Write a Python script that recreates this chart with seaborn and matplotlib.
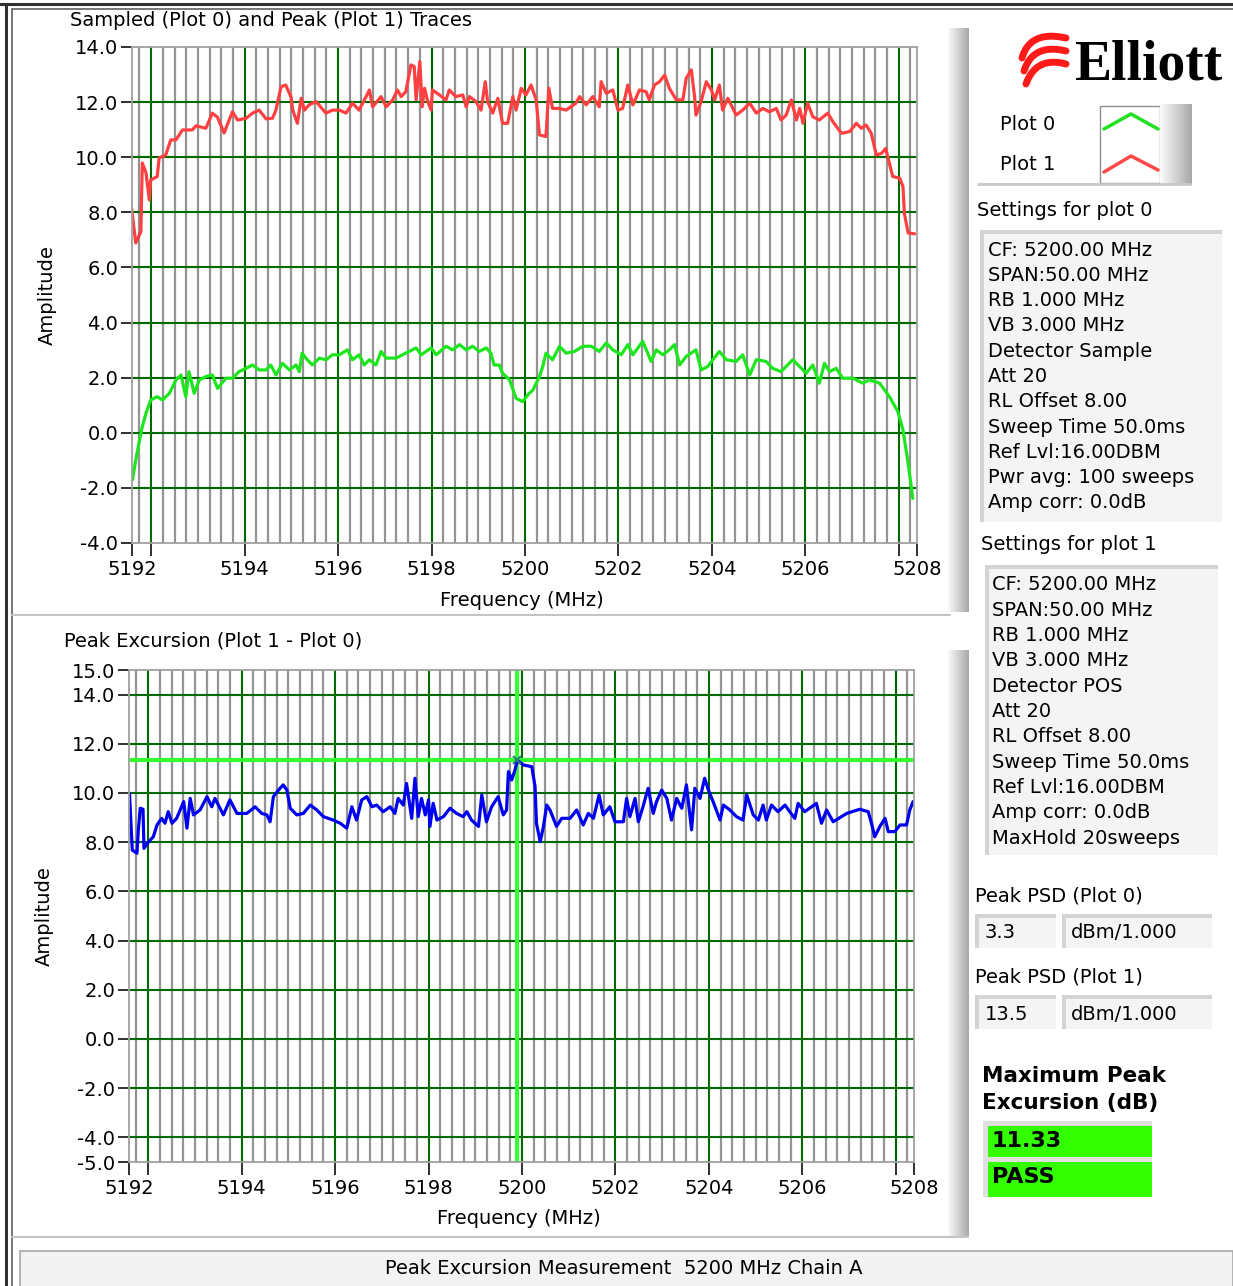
import numpy as np
import matplotlib
matplotlib.use("Agg")
import matplotlib.pyplot as plt
import seaborn as sns
from matplotlib.patches import Rectangle

# --- Sampled trace (Plot 0, green) ---
freq_plot0 = [5191.60, 5191.67, 5191.74, 5191.81, 5191.89, 5191.99, 5192.13, 5192.24, 5192.39, 5192.53,
              5192.64, 5192.74, 5192.81, 5192.92, 5193.03, 5193.17, 5193.31, 5193.42, 5193.60, 5193.74,
              5193.88, 5194.03, 5194.17, 5194.31, 5194.46, 5194.56, 5194.67, 5194.81, 5194.96, 5195.10,
              5195.17, 5195.23, 5195.31, 5195.45, 5195.60, 5195.74, 5195.88, 5196.03, 5196.20, 5196.31,
              5196.45, 5196.56, 5196.67, 5196.81, 5196.92, 5197.03, 5197.24, 5197.38, 5197.52, 5197.67,
              5197.78, 5197.99, 5198.10, 5198.31, 5198.45, 5198.60, 5198.74, 5198.88, 5199.02, 5199.17,
              5199.27, 5199.34, 5199.45, 5199.52, 5199.67, 5199.81, 5199.95, 5200.09, 5200.17, 5200.24,
              5200.31, 5200.38, 5200.45, 5200.59, 5200.74, 5200.88, 5201.06, 5201.24, 5201.42, 5201.59,
              5201.74, 5201.88, 5202.06, 5202.20, 5202.31, 5202.52, 5202.70, 5202.81, 5202.95, 5203.09,
              5203.20, 5203.31, 5203.45, 5203.66, 5203.77, 5203.91, 5204.02, 5204.16, 5204.31, 5204.52,
              5204.66, 5204.81, 5204.95, 5205.16, 5205.30, 5205.48, 5205.73, 5205.88, 5206.02, 5206.16,
              5206.30, 5206.41, 5206.52, 5206.66, 5206.80, 5207.02, 5207.23, 5207.37, 5207.59, 5207.80,
              5207.98, 5208.09, 5208.20, 5208.30]
amp_plot0 = [-1.71, -0.99, -0.37, 0.22, 0.71, 1.19, 1.31, 1.19, 1.43, 1.92,
             2.10, 1.31, 2.22, 1.43, 1.92, 2.04, 2.10, 1.61, 1.98, 1.98,
             2.22, 2.34, 2.46, 2.28, 2.28, 2.46, 2.10, 2.52, 2.28, 2.46,
             2.22, 2.89, 2.71, 2.46, 2.71, 2.65, 2.83, 2.83, 3.01, 2.65,
             2.83, 2.46, 2.65, 2.46, 2.95, 2.71, 2.71, 2.83, 2.95, 3.08,
             2.83, 3.08, 2.83, 3.14, 3.01, 3.20, 3.01, 3.14, 2.95, 3.08,
             2.89, 2.46, 2.46, 2.16, 1.92, 1.25, 1.13, 1.43, 1.55, 1.80,
             2.04, 2.40, 2.89, 2.65, 3.14, 2.89, 2.95, 3.14, 3.14, 2.95,
             3.26, 3.01, 2.83, 3.20, 2.83, 3.32, 2.59, 3.01, 2.83, 3.01,
             3.20, 2.46, 2.77, 3.01, 2.28, 2.40, 2.65, 2.95, 2.65, 2.59,
             2.83, 2.10, 2.65, 2.59, 2.34, 2.22, 2.65, 2.40, 2.16, 2.46,
             1.80, 2.52, 2.22, 2.34, 1.98, 1.98, 1.80, 1.92, 1.80, 1.31,
             0.77, 0.10, -1.11, -2.38]

# --- Peak trace (Plot 1, red) ---
freq_plot1 = [5191.58, 5191.67, 5191.78, 5191.81, 5191.89, 5191.96, 5191.99, 5192.13, 5192.17, 5192.31,
              5192.42, 5192.53, 5192.67, 5192.88, 5192.96, 5193.17, 5193.31, 5193.42, 5193.56, 5193.74,
              5193.85, 5194.03, 5194.17, 5194.31, 5194.46, 5194.60, 5194.67, 5194.78, 5194.88, 5194.99,
              5195.03, 5195.13, 5195.21, 5195.28, 5195.38, 5195.53, 5195.74, 5195.88, 5196.03, 5196.17,
              5196.31, 5196.45, 5196.60, 5196.67, 5196.74, 5196.92, 5197.03, 5197.17, 5197.27, 5197.35,
              5197.45, 5197.56, 5197.63, 5197.67, 5197.75, 5197.80, 5197.85, 5197.92, 5197.99, 5198.02,
              5198.17, 5198.31, 5198.38, 5198.52, 5198.67, 5198.74, 5198.81, 5198.95, 5199.06, 5199.15,
              5199.20, 5199.31, 5199.42, 5199.52, 5199.63, 5199.74, 5199.81, 5199.92, 5200.02, 5200.13,
              5200.24, 5200.31, 5200.45, 5200.51, 5200.59, 5200.74, 5200.88, 5201.09, 5201.17, 5201.31,
              5201.45, 5201.59, 5201.63, 5201.74, 5201.88, 5201.99, 5202.09, 5202.20, 5202.31, 5202.45,
              5202.59, 5202.66, 5202.77, 5202.88, 5202.99, 5203.09, 5203.24, 5203.38, 5203.45, 5203.56,
              5203.63, 5203.66, 5203.77, 5203.88, 5203.99, 5204.06, 5204.16, 5204.23, 5204.34, 5204.52,
              5204.66, 5204.81, 5204.95, 5205.09, 5205.23, 5205.38, 5205.48, 5205.59, 5205.70, 5205.81,
              5205.88, 5205.95, 5206.05, 5206.16, 5206.30, 5206.48, 5206.59, 5206.77, 5206.95, 5207.09,
              5207.20, 5207.30, 5207.41, 5207.52, 5207.63, 5207.72, 5207.77, 5207.87, 5208.02, 5208.09,
              5208.12, 5208.20, 5208.34]
amp_plot1 = [8.16, 6.89, 7.30, 9.79, 9.43, 8.45, 9.17, 9.30, 9.97, 10.08,
             10.63, 10.63, 10.99, 10.99, 11.14, 11.05, 11.60, 11.45, 10.88, 11.65,
             11.35, 11.41, 11.60, 11.71, 11.39, 11.42, 11.71, 12.56, 12.62, 12.20,
             11.71, 11.23, 12.14, 11.71, 11.90, 12.02, 11.60, 11.71, 11.71, 11.60,
             11.96, 11.71, 12.20, 12.44, 11.83, 12.20, 11.83, 12.08, 12.44, 12.20,
             12.38, 13.35, 13.29, 12.08, 13.47, 11.83, 12.50, 12.02, 11.71, 12.44,
             12.26, 12.08, 12.44, 12.20, 12.26, 11.83, 12.20, 12.02, 11.71, 12.74,
             12.02, 11.60, 12.14, 11.23, 11.23, 12.20, 11.71, 12.50, 12.26, 12.62,
             12.08, 10.81, 10.75, 12.50, 11.77, 11.77, 11.71, 11.96, 12.20, 11.90,
             12.20, 11.83, 12.74, 12.32, 12.44, 11.71, 11.77, 12.62, 11.90, 12.44,
             12.38, 12.08, 12.62, 12.74, 12.98, 12.50, 12.08, 12.08, 12.86, 13.17,
             12.20, 11.53, 12.02, 12.74, 12.44, 12.08, 12.62, 11.71, 12.14, 11.53,
             11.71, 11.96, 11.60, 11.77, 11.65, 11.77, 11.35, 11.53, 12.08, 11.35,
             11.77, 11.23, 11.96, 11.47, 11.35, 11.60, 11.29, 10.87, 10.93, 11.23,
             11.05, 11.17, 10.87, 10.08, 10.14, 10.32, 9.97, 9.30, 9.24, 8.93,
             7.96, 7.25, 7.22]

# --- Peak excursion (Plot 1 - Plot 0, blue) ---
freq_excursion = [5191.60, 5191.63, 5191.66, 5191.76, 5191.79, 5191.83, 5191.89, 5191.91, 5192.01, 5192.11,
                  5192.19, 5192.29, 5192.36, 5192.43, 5192.51, 5192.61, 5192.76, 5192.83, 5192.90, 5192.97,
                  5193.11, 5193.26, 5193.36, 5193.43, 5193.61, 5193.75, 5193.90, 5194.11, 5194.29, 5194.43,
                  5194.54, 5194.61, 5194.68, 5194.79, 5194.89, 5194.97, 5195.04, 5195.18, 5195.32, 5195.47,
                  5195.61, 5195.75, 5195.96, 5196.11, 5196.25, 5196.36, 5196.46, 5196.57, 5196.68, 5196.79,
                  5196.89, 5197.03, 5197.18, 5197.28, 5197.35, 5197.46, 5197.53, 5197.64, 5197.71, 5197.78,
                  5197.85, 5197.93, 5198.00, 5198.03, 5198.10, 5198.18, 5198.32, 5198.46, 5198.60, 5198.74,
                  5198.82, 5198.92, 5199.07, 5199.14, 5199.24, 5199.35, 5199.49, 5199.60, 5199.67, 5199.71,
                  5199.78, 5199.85, 5199.90, 5200.03, 5200.21, 5200.28, 5200.31, 5200.39, 5200.46, 5200.53,
                  5200.60, 5200.74, 5200.85, 5201.03, 5201.17, 5201.31, 5201.42, 5201.53, 5201.65, 5201.74,
                  5201.88, 5201.99, 5202.17, 5202.24, 5202.31, 5202.42, 5202.49, 5202.59, 5202.70, 5202.81,
                  5202.88, 5202.99, 5203.10, 5203.20, 5203.31, 5203.42, 5203.52, 5203.63, 5203.70, 5203.81,
                  5203.91, 5203.99, 5204.09, 5204.24, 5204.31, 5204.45, 5204.59, 5204.73, 5204.81, 5204.95,
                  5205.06, 5205.16, 5205.23, 5205.34, 5205.48, 5205.63, 5205.73, 5205.84, 5205.91, 5206.05,
                  5206.20, 5206.30, 5206.41, 5206.52, 5206.66, 5206.95, 5207.23, 5207.41, 5207.48, 5207.55,
                  5207.66, 5207.77, 5207.84, 5207.98, 5208.09, 5208.23, 5208.30, 5208.37]
amp_excursion = [9.99, 8.83, 7.68, 7.55, 8.50, 9.38, 9.34, 7.75, 8.02, 8.22,
                 8.70, 8.97, 8.77, 9.24, 8.77, 8.97, 9.65, 8.57, 9.78, 9.11,
                 9.31, 9.85, 9.44, 9.78, 9.11, 9.72, 9.17, 9.17, 9.44, 9.17,
                 9.11, 8.83, 9.85, 10.12, 10.33, 10.12, 9.38, 9.11, 9.17, 9.51,
                 9.31, 9.04, 8.90, 8.77, 8.57, 9.44, 8.90, 9.72, 9.85, 9.44,
                 9.51, 9.24, 9.44, 9.17, 9.78, 9.51, 10.39, 8.97, 10.60, 9.04,
                 9.78, 9.11, 9.72, 8.64, 9.58, 8.90, 9.04, 9.38, 9.17, 9.04,
                 9.24, 8.90, 8.64, 9.92, 8.83, 9.44, 9.85, 9.11, 9.31, 10.87,
                 10.53, 10.93, 11.33, 11.14, 11.07, 10.26, 8.77, 8.02, 8.64, 9.51,
                 9.31, 8.64, 8.97, 8.97, 9.31, 8.70, 9.17, 8.97, 9.92, 9.11,
                 9.44, 8.83, 8.83, 9.78, 9.04, 9.78, 8.83, 9.44, 10.19, 9.17,
                 9.65, 10.12, 9.78, 8.90, 9.78, 9.38, 10.33, 8.50, 10.19, 9.78,
                 10.60, 10.12, 9.65, 8.90, 9.51, 9.31, 9.04, 8.90, 9.92, 9.11,
                 8.90, 9.51, 8.90, 9.51, 9.24, 9.51, 9.24, 8.97, 9.58, 9.24,
                 9.44, 9.58, 8.77, 9.31, 8.83, 9.17, 9.34, 9.24, 8.77, 8.22,
                 8.64, 8.97, 8.43, 8.43, 8.70, 8.70, 9.31, 9.65]

# axis ranges and labels
freq_min, freq_max = 5191.59, 5208.39
major_freqs = [5192, 5194, 5196, 5198, 5200, 5202, 5204, 5206, 5208]
top_yticks = [-4, -2, 0, 2, 4, 6, 8, 10, 12, 14]
bottom_yticks = [-5, -4, -2, 0, 2, 4, 6, 8, 10, 12, 14, 15]

# cursor at the maximum excursion
cursor_freq = 5199.90
cursor_amp = 11.33

settings_plot0 = ["CF: 5200.00 MHz", "SPAN:50.00 MHz", "RB 1.000 MHz", "VB 3.000 MHz",
                  "Detector Sample", "Att 20", "RL Offset 8.00", "Sweep Time 50.0ms",
                  "Ref Lvl:16.00DBM", "Pwr avg: 100 sweeps", "Amp corr: 0.0dB"]
settings_plot1 = ["CF: 5200.00 MHz", "SPAN:50.00 MHz", "RB 1.000 MHz", "VB 3.000 MHz",
                  "Detector POS", "Att 20", "RL Offset 8.00", "Sweep Time 50.0ms",
                  "Ref Lvl:16.00DBM", "Amp corr: 0.0dB", "MaxHold 20sweeps"]
peak_psd_plot0 = "3.3"
peak_psd_plot1 = "13.5"
psd_unit = "dBm/1.000"
max_excursion = "11.33"
verdict = "PASS"

W, H = 1233, 1286
FS = 14
GRID_GREEN = "#006a00"
MINOR_GRAY = "#939393"


def px_axes(fig, x0, y0, x1, y1):
    # axes placed by pixel corners (top-left origin)
    return fig.add_axes([x0 / W, 1 - y1 / H, (x1 - x0) / W, (y1 - y0) / H])


def setup_graph(ax, ylo, yhi, yticks, grid_y):
    ax.set_facecolor("white")
    ax.set_xlim(freq_min, freq_max)
    ax.set_ylim(ylo, yhi)
    for m in np.arange(5191.75, freq_max, 0.25):
        if abs(m / 2 - round(m / 2)) > 1e-6:
            ax.axvline(m, color=MINOR_GRAY, lw=1.6, zorder=1)
    for f in major_freqs:
        ax.axvline(f, color=GRID_GREEN, lw=1.5, zorder=2)
    for v in grid_y:
        ax.axhline(v, color=GRID_GREEN, lw=1.5, zorder=2)
    xt = [freq_min] + major_freqs + [freq_max]
    xl = ["5192", ""] + [str(f) for f in major_freqs[1:-1]] + ["", "5208"]
    ax.set_xticks(xt)
    ax.set_xticklabels(xl)
    ax.set_yticks(yticks)
    ax.set_yticklabels([f"{v:.1f}" for v in yticks])
    ax.tick_params(axis="x", bottom=True, direction="out", length=9, width=1.3,
                   color="#202020", labelcolor="black", labelsize=FS, pad=3)
    ax.tick_params(axis="y", left=True, direction="out", length=8, width=1.3,
                   color="#202020", labelcolor="black", labelsize=FS, pad=2)
    for s in ax.spines.values():
        s.set_color("#a0a0a0")
        s.set_linewidth(1.3)
        s.set_zorder(5)
    ax.set_xlabel("Frequency (MHz)", fontsize=FS, va="center", color="black")
    ax.set_ylabel("Amplitude", fontsize=FS, va="center", color="black")
    ax.xaxis.set_label_coords(0.497, -0.115)
    ax.yaxis.set_label_coords(-0.108, 0.5)


def field(bg, x0, y0, x1, y1, face="#f4f4f4", edge="#d4d4d4", bevel=4):
    bg.add_patch(Rectangle((x0, y0), x1 - x0, y1 - y0, facecolor=edge, edgecolor="none"))
    bg.add_patch(Rectangle((x0 + bevel, y0 + bevel), x1 - x0 - bevel, y1 - y0 - bevel,
                           facecolor=face, edgecolor="none"))


def bevel_strip(bg, x0, x1, y0, y1):
    grad = np.linspace(0.98, 0.66, 40).reshape(1, -1)
    bg.imshow(grad, extent=(x0, x1, y1, y0), cmap="gray", vmin=0, vmax=1,
              aspect="auto", zorder=1, interpolation="bilinear")


def main():
    sns.set_theme(style="white")
    plt.rcParams["font.family"] = ["DejaVu Sans"]
    plt.rcParams["text.color"] = "black"

    fig = plt.figure(figsize=(W / 100, H / 100), dpi=100)
    fig.patch.set_facecolor("white")

    # background layer in pixel coordinates
    bg = fig.add_axes([0, 0, 1, 1])
    bg.set_xlim(0, W)
    bg.set_ylim(H, 0)
    bg.axis("off")

    # window frame
    bg.plot([0, W], [4, 4], color="#303030", lw=2.2)
    bg.plot([12, W], [9, 9], color="#606060", lw=1.2)
    bg.plot([6, 6], [4, H], color="#303030", lw=2.2)
    bg.plot([12, 12], [9, H], color="#606060", lw=1.2)
    bg.plot([12, 950], [615, 615], color="#c4c4c4", lw=1.5)
    bg.plot([12, 968], [1237, 1237], color="#c4c4c4", lw=1.5)
    bevel_strip(bg, 948, 969, 28, 612)
    bevel_strip(bg, 948, 969, 650, 1236)

    # status bar
    bg.add_patch(Rectangle((20, 1251), W - 20, 40, facecolor="#f3f3f3", edgecolor="#a8a8a8", lw=1.2))
    bg.text(624, 1269, "Peak Excursion Measurement  5200 MHz Chain A", fontsize=FS,
            ha="center", va="center")

    # graph titles
    bg.text(70, 21, "Sampled (Plot 0) and Peak (Plot 1) Traces", fontsize=FS, va="center")
    bg.text(64, 641, "Peak Excursion (Plot 1 - Plot 0)", fontsize=FS, va="center")

    # logo: three red brush swooshes and the name
    t = np.linspace(0, 1, 40)
    for k in range(3):
        p0 = np.array([1022 + 2 * k, 58 + 13 * k])
        p1 = np.array([1030 + 3 * k, 30 + 13 * k])
        p2 = np.array([1066, 38 + 13 * k])
        pts = ((1 - t) ** 2)[:, None] * p0 + (2 * (1 - t) * t)[:, None] * p1 + (t ** 2)[:, None] * p2
        bg.plot(pts[:, 0], pts[:, 1], color="#ff1a1a", lw=5, solid_capstyle="round")
    bg.text(1074, 80, "Elliott", fontfamily="Liberation Serif", fontweight="bold",
            fontsize=40, va="baseline", color="black")

    # legend
    bg.add_patch(Rectangle((1100, 106), 60, 77, facecolor="white", edgecolor="#909090", lw=1))
    bevel_strip(bg, 1160, 1192, 104, 185)
    bg.plot([978, 1190], [184, 184], color="#c8c8c8", lw=2)
    bg.plot([1104, 1131, 1158], [129, 114, 129], color="#22e022", lw=2.5)
    bg.plot([1104, 1131, 1158], [172, 156, 170], color="#ff4848", lw=2.5)
    bg.text(1000, 124, "Plot 0", fontsize=FS, va="center")
    bg.text(1000, 165, "Plot 1", fontsize=FS, va="center")

    # settings text boxes
    bg.text(977, 210, "Settings for plot 0", fontsize=FS, va="center")
    field(bg, 980, 230, 1222, 522)
    for i, line in enumerate(settings_plot0):
        bg.text(988, 250 + i * 25.3, line, fontsize=FS, va="center")
    bg.text(981, 545, "Settings for plot 1", fontsize=FS, va="center")
    field(bg, 985, 565, 1218, 855)
    for i, line in enumerate(settings_plot1):
        bg.text(992, 585 + i * 25.3, line, fontsize=FS, va="center")

    # peak PSD readouts
    for y, label, val in [(896, "Peak PSD (Plot 0)", peak_psd_plot0),
                          (977, "Peak PSD (Plot 1)", peak_psd_plot1)]:
        bg.text(975, y, label, fontsize=FS, va="center")
        field(bg, 975, y + 18, 1056, y + 52)
        field(bg, 1062, y + 18, 1212, y + 52)
        bg.text(985, y + 37, val, fontsize=FS, va="center")
        bg.text(1071, y + 37, psd_unit, fontsize=FS, va="center")

    bg.text(982, 1076, "Maximum Peak", fontsize=FS + 1.5, fontweight="bold", va="center")
    bg.text(982, 1103, "Excursion (dB)", fontsize=FS + 1.5, fontweight="bold", va="center")
    field(bg, 983, 1121, 1152, 1158, face="#33ff00", edge="#e0e0e0", bevel=5)
    field(bg, 983, 1157, 1152, 1197, face="#33ff00", edge="#e0e0e0", bevel=5)
    bg.text(992, 1141, max_excursion, fontsize=FS + 2, fontweight="bold", va="center")
    bg.text(992, 1177, verdict, fontsize=FS + 2, fontweight="bold", va="center")

    # top graph: sampled and peak traces
    ax1 = px_axes(fig, 132, 47, 917, 543)
    setup_graph(ax1, -4, 14, top_yticks, [-2, 0, 2, 4, 6, 8, 10, 12])
    sns.lineplot(x=freq_plot1, y=amp_plot1, ax=ax1, color="#ff4040", lw=2.3,
                 estimator=None, sort=False, legend=False, zorder=4)
    sns.lineplot(x=freq_plot0, y=amp_plot0, ax=ax1, color="#1ee61e", lw=2.3,
                 estimator=None, sort=False, legend=False, zorder=4)

    # bottom graph: peak excursion
    ax2 = px_axes(fig, 129, 670, 914, 1162)
    setup_graph(ax2, -5, 15, bottom_yticks, [-4, -2, 0, 2, 4, 6, 8, 10, 12, 14])
    ax2.axvline(cursor_freq, color="#33ff33", lw=3, zorder=3)
    ax2.axhline(cursor_amp, color="#33ff33", lw=3, zorder=3)
    sns.lineplot(x=freq_excursion, y=amp_excursion, ax=ax2, color="#0000f0", lw=2.3,
                 estimator=None, sort=False, legend=False, zorder=4)
    ax2.plot([cursor_freq], [cursor_amp], marker="x", color="#2a7a7a", ms=6, mew=1.5, zorder=6)

    fig.savefig("out.png", dpi=100, facecolor="white")
    print("saved out.png")


if __name__ == "__main__":
    main()
